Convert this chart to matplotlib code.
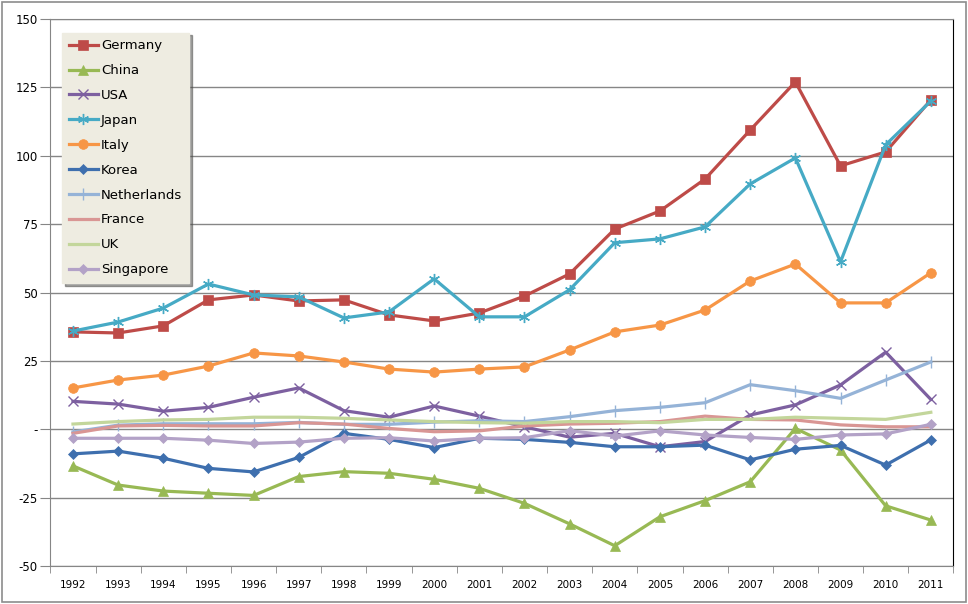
import matplotlib.pyplot as plt
from matplotlib.patches import Rectangle
from matplotlib.ticker import FuncFormatter

years = list(range(1992, 2012))

germany = [35.6, 35.2, 37.8, 47.3, 49.1, 46.9, 47.3, 41.8, 39.6, 42.5,
           48.7, 56.8, 73.2, 79.8, 91.5, 109.4, 127.0, 96.3, 101.4, 120.4]
china = [-13.4, -20.4, -22.6, -23.4, -24.2, -17.3, -15.5, -16.1, -18.3, -21.6,
         -27.1, -34.6, -42.6, -32.0, -26.1, -19.2, 0.3, -7.6, -28.0, -33.2]
usa = [10.2, 9.2, 6.6, 8.0, 11.7, 15.1, 6.8, 4.4, 8.5, 4.8,
       0.9, -2.9, -1.5, -6.4, -4.5, 5.2, 8.9, 16.2, 28.2, 10.9]
japan = [35.9, 39.2, 44.3, 53.1, 49.1, 48.4, 40.7, 42.9, 55.0, 41.1,
         41.1, 51.0, 68.2, 69.6, 74.0, 89.7, 99.2, 61.2, 104.0, 120.0]
italy = [15.1, 18.0, 19.8, 23.1, 27.9, 26.8, 24.6, 22.0, 20.9, 22.0,
         22.8, 29.0, 35.6, 38.1, 43.6, 54.2, 60.4, 46.2, 46.2, 57.2]
korea = [-9.0, -8.0, -10.6, -14.3, -15.6, -10.3, -1.5, -3.7, -6.7, -3.3,
         -3.7, -4.8, -6.4, -6.4, -5.8, -11.2, -7.3, -5.9, -13.1, -3.9]
netherlands = [-1.0, 1.5, 2.0, 2.0, 2.0, 2.5, 1.8, 1.8, 2.6, 3.1,
               2.8, 4.6, 6.8, 8.0, 9.7, 16.3, 14.1, 11.3, 18.0, 24.6]
france = [-1.5, 1.2, 1.4, 1.2, 1.2, 2.4, 1.9, 0.3, -0.9, -0.6,
          1.2, 1.9, 2.2, 2.8, 4.8, 3.6, 3.4, 1.6, 0.9, 0.9]
uk = [1.9, 2.8, 3.4, 3.6, 4.4, 4.4, 4.0, 3.4, 2.8, 2.4,
      2.2, 2.8, 2.8, 2.4, 3.6, 3.6, 4.4, 4.0, 3.6, 6.2]
singapore = [-3.3, -3.3, -3.3, -4.0, -5.2, -4.7, -3.3, -3.1, -4.3, -3.3,
             -3.1, -0.5, -2.5, -0.6, -2.1, -3.0, -3.7, -2.1, -1.7, 1.8]

series = [
    ("Germany", germany, "#BE4B48", "s", 6.5),
    ("China", china, "#98B954", "^", 7),
    ("USA", usa, "#7D60A0", "x", 7),
    ("Japan", japan, "#46AAC5", (6, 2, 0), 8),
    ("Italy", italy, "#F79646", "o", 7),
    ("Korea", korea, "#3E6FAE", "D", 5.5),
    ("Netherlands", netherlands, "#95B3D7", "|", 8),
    ("France", france, "#D99694", None, 0),
    ("UK", uk, "#C3D69B", None, 0),
    ("Singapore", singapore, "#B3A2C7", "D", 5.5),
]

fig = plt.figure(figsize=(9.68, 6.04), dpi=100)
fig.patches.append(Rectangle((0.002, 0.003), 0.996, 0.994, transform=fig.transFigure,
                             fill=False, edgecolor="#8C8C8C", linewidth=1.2))
ax = fig.add_axes([50.4 / 968, 38 / 604, 903 / 968, 547 / 604])

x = list(range(len(years)))
for name, vals, color, marker, ms in series:
    thin = marker in ("x", "|") or isinstance(marker, tuple)
    ax.plot(x, vals, color=color, lw=2.3, marker=marker, markersize=ms,
            markeredgewidth=1.0 if thin else 0.5,
            markeredgecolor=color, markerfacecolor=color, label=name, zorder=3)

ax.set_xlim(-0.5, len(years) - 0.5)
ax.set_ylim(-50, 150)
ax.set_yticks(range(-50, 151, 25))
ax.yaxis.set_major_formatter(FuncFormatter(lambda v, p: "-" if v == 0 else f"{int(v)}"))
ax.grid(axis="y", color="#868686", lw=1)
ax.set_axisbelow(True)

ax.set_xticks(x)
ax.set_xticklabels([str(y) for y in years], fontsize=7.5)
ax.set_xticks([i - 0.5 for i in range(len(years) + 1)], minor=True)
ax.tick_params(axis="x", which="major", length=0, pad=10)
ax.tick_params(axis="x", which="minor", length=5, color="#868686", direction="out")
ax.tick_params(axis="y", length=7, color="#868686", labelsize=8.5, pad=2)

for side in ("left", "bottom", "top"):
    ax.spines[side].set_color("#868686")
ax.spines["right"].set_color("#000000")

leg = ax.legend(loc="upper left", bbox_to_anchor=(0.013, 0.975), frameon=True,
                fancybox=False, shadow=True, facecolor="#EEECE1", edgecolor="#EEECE1",
                fontsize=9.5, handlelength=2.2, labelspacing=0.9, borderpad=0.5,
                handletextpad=0.25, borderaxespad=0, framealpha=1)

fig.savefig("out.png", dpi=100)
